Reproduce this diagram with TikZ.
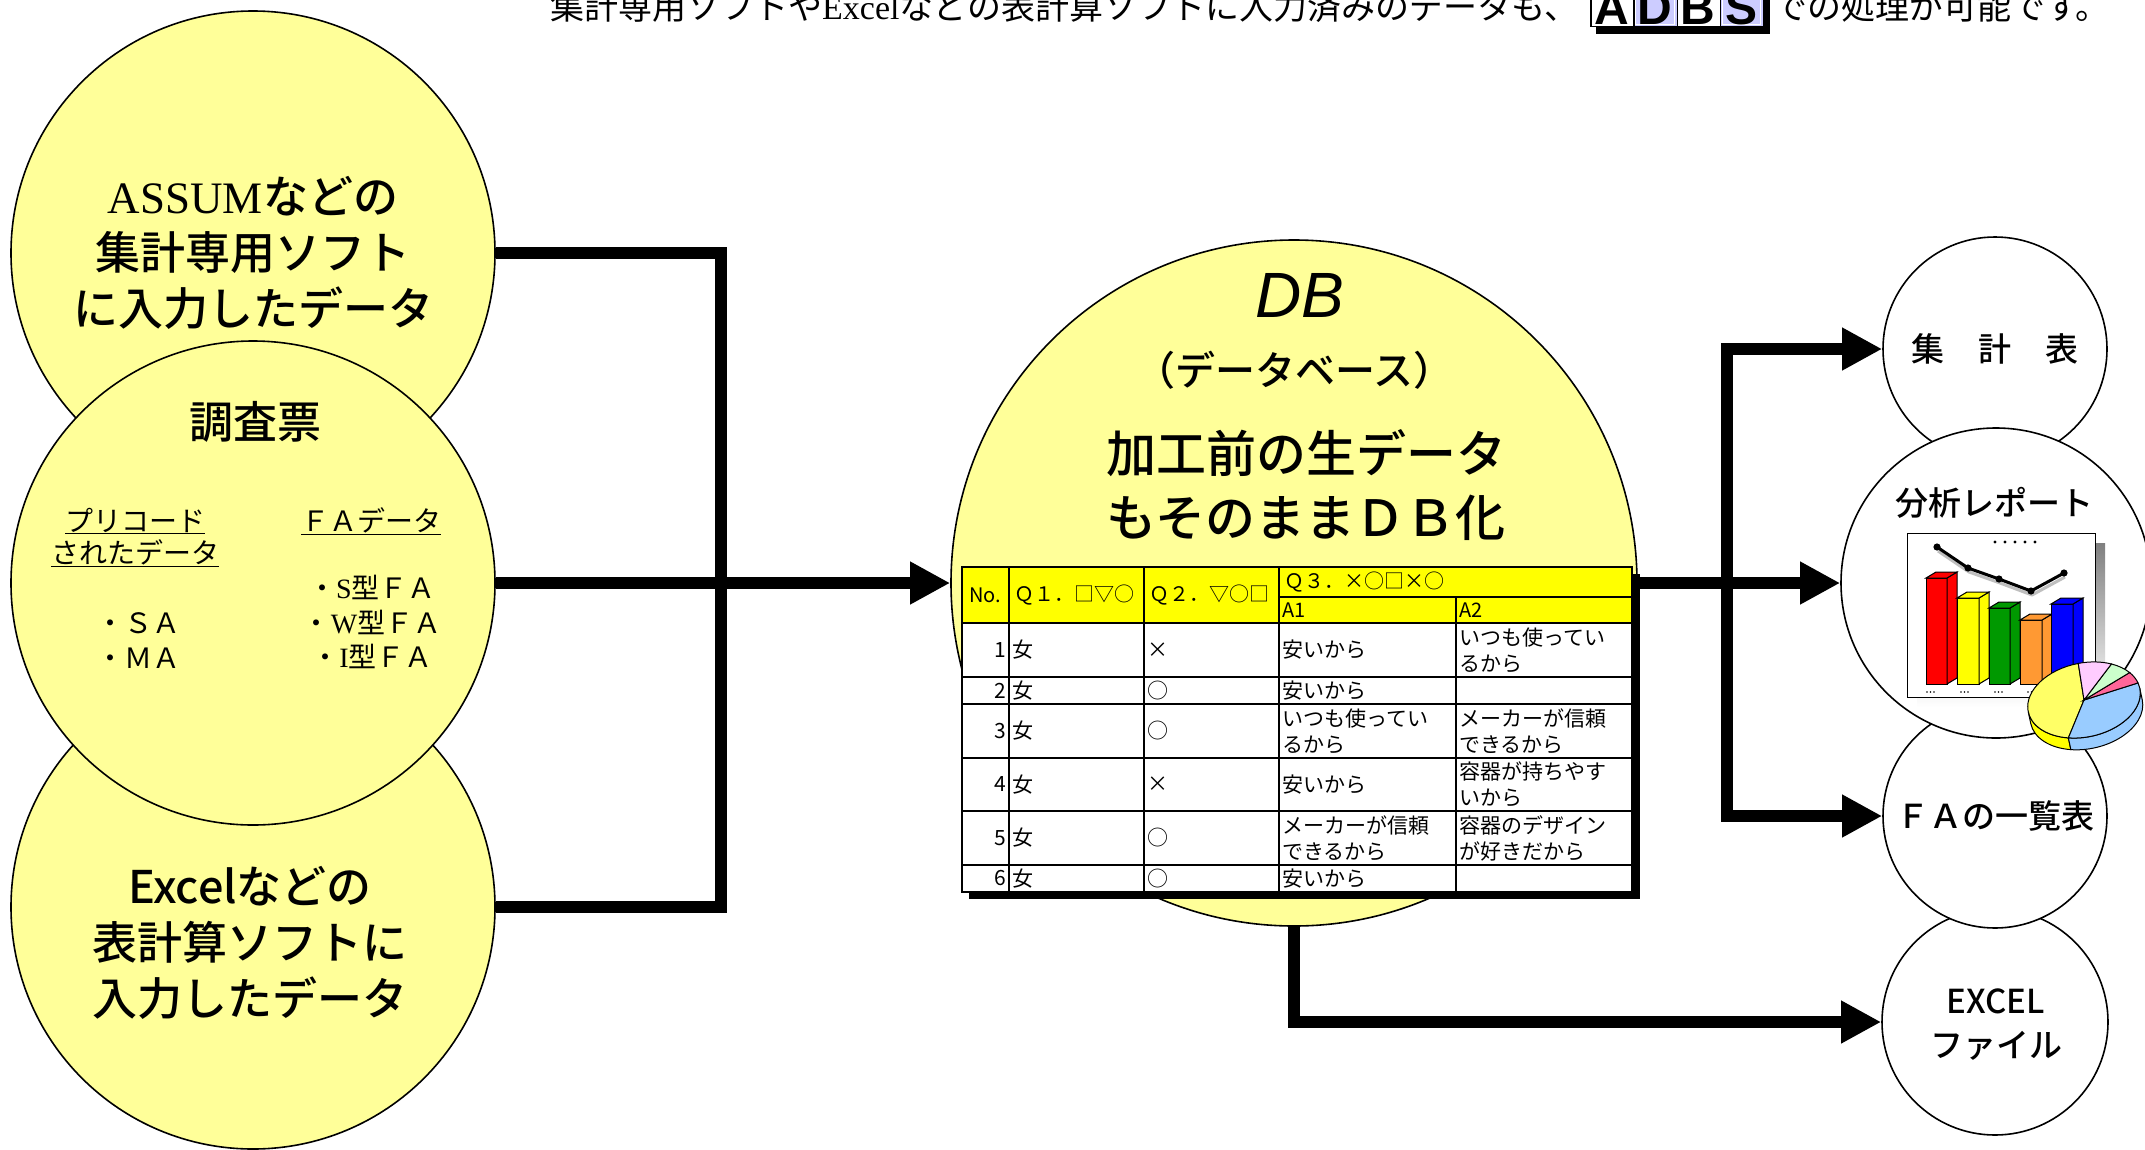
\documentclass[tikz,border=0pt]{standalone}
\usepackage{fontspec}
\setmainfont{Liberation Serif}
\newfontfamily\jp{Noto Sans CJK JP}[BoldFont={Noto Sans CJK JP Medium}]
\newfontfamily\lsans{Liberation Sans}
\usetikzlibrary{arrows.meta}

\definecolor{cream}{HTML}{FFFF99}
\definecolor{hdr}{HTML}{FFFF00}
\definecolor{lav}{HTML}{CCCCFF}
\definecolor{barred}{HTML}{FF0000}
\definecolor{baryellow}{HTML}{FFFF00}
\definecolor{bargreen}{HTML}{009900}
\definecolor{barorange}{HTML}{FF9933}
\definecolor{barblue}{HTML}{0000FF}
\definecolor{pieyellow}{HTML}{FFFF66}
\definecolor{pieblue}{HTML}{99CCFF}
\definecolor{piepink}{HTML}{FFCCFF}
\definecolor{piegreen}{HTML}{CCFFCC}
\definecolor{piered}{HTML}{FF6699}
\definecolor{shade}{HTML}{B2B2B2}

% one 3D bar: left x, right x, top y, colour (base at y=684)
\newcommand\chartbar[4]{%
  \filldraw[fill=#4] (#1,#3) rectangle (#2,684);
  \filldraw[fill=#4] (#2,684) -- (#2,#3) -- (#2+10,#3-6) -- (#2+10,678) -- cycle;
  \filldraw[fill=#4] (#1,#3) -- (#2,#3) -- (#2+10,#3-6) -- (#1+10,#3-6) -- cycle;}

\begin{document}
\begin{tikzpicture}[x=1pt, y=-1pt,
  bubble/.style={circle, draw, line width=1.6pt, fill=cream, inner sep=0pt, minimum size=#1},
  roundout/.style={circle, draw, line width=1.6pt, fill=white, inner sep=0pt, minimum size=#1},
  pipe/.style={line width=12pt},
  flow/.style={pipe, -{Triangle[length=40pt,width=40pt]}},
  headline/.style={font=\jp\bfseries\fontsize{45}{56}\selectfont, align=center, inner sep=0pt},
  small/.style={font=\jp\fontsize{28}{34}\selectfont, inner sep=0pt},
  outlabel/.style={font=\jp\bfseries\fontsize{33}{44}\selectfont, align=center, inner sep=0pt},
  cellfont/.style={font=\jp\fontsize{21}{26}\selectfont, inner sep=0pt, align=left},
  hdrfont/.style={font=\jp\fontsize{20}{24}\selectfont, inner sep=0pt},
  letter/.style={font=\lsans\bfseries\fontsize{48}{48}\selectfont, inner sep=0pt, anchor=base}]

\useasboundingbox (0,0) rectangle (2145,1149);
\clip (0,0) rectangle (2145,1149);

% ---- lead line with the ADBS logo ----
\node[anchor=base west, inner sep=0pt, font=\jp\fontsize{34}{34}\selectfont] (lead) at (550,19)
  {集計専用ソフトや{\rmfamily Excel}などの表計算ソフトに入力済みのデータも、};
\fill (1596,-13) rectangle (1770,34);
\foreach \lt/\lc [count=\i] in {A/white, D/lav, B/white, S/lav} {
  \pgfmathsetmacro\lx{1590+(\i-1)*43.25}
  \node[draw, fill=\lc, line width=1.5pt, minimum width=43.25pt, minimum height=50pt,
        anchor=south west, inner sep=0pt] (logo\i) at (\lx,27) {};
  \draw[white, line width=1pt] (\lx+2.5,-20) rectangle (\lx+40.75,24.5);
  \node[letter] (logoch\i) at (\lx+21.6,24) {\lt};
}
\node[anchor=base west, inner sep=0pt, font=\jp\fontsize{34}{34}\selectfont] (tail) at (1773,19)
  {での処理が可能です。};

% ---- input sources ----
\node[bubble=484pt, headline] (assum) at (253,253)
  {{\rmfamily\mdseries ASSUM}などの\\集計専用ソフト\\に入力したデータ};
\node[bubble=484pt] (xl) at (253,907) {};
\node[headline] (xltext) at (250,943) {Excelなどの\\表計算ソフトに\\入力したデータ};
\node[bubble=484pt] (chosa) at (253,583) {};
\node[font=\jp\bfseries\fontsize{44}{44}\selectfont, inner sep=0pt] (ctitle) at (255,422) {調査票};
\node[small] (pc1) at (135,521) {\underline{プリコード}};
\node[small] (pc2) at (135,553) {\underline{されたデータ}};
\node[small] (fad) at (371,521) {\underline{ＦＡデータ}};
\node[small] (sa) at (138,623) {・ＳＡ};
\node[small] (ma) at (138,658) {・ＭＡ};
\node[small] (fs) at (372,587) {・{\rmfamily S}型ＦＡ};
\node[small] (fw) at (372,622) {・{\rmfamily W}型ＦＡ};
\node[small] (fi) at (372,656) {・{\rmfamily I}型ＦＡ};

% ---- database ----
\node[bubble=686pt] (db) at (1294,583) {};
\node[inner sep=0pt, font=\lsans\itshape\fontsize{64}{64}\selectfont] (dbname) at (1300,295) {DB};
\node[inner sep=0pt, font=\jp\bfseries\fontsize{40}{40}\selectfont] (dbsub) at (1294,370) {（データベース）};
\node[inner sep=0pt, align=center, font=\jp\bfseries\fontsize{50}{64}\selectfont] (dbbody) at (1306,485)
  {加工前の生データ\\もそのままＤＢ化};

% ---- outputs ----
\node[roundout=224pt, outlabel] (shukei) at (1995,349) {集\hspace{34pt}計\hspace{34pt}表};
\node[roundout=226pt] (xlfile) at (1995,1022) {};
\node[outlabel] (xlfiletext) at (1996,1025) {EXCEL\\ファイル};
\node[roundout=224pt, outlabel] (fa) at (1995,816) {ＦＡの一覧表};
\node[roundout=310pt] (bunseki) at (1996,583) {};
\node[outlabel] (bunsekitext) at (1994,503) {分析レポート};

% ---- connectors ----
\coordinate (busL) at (721,583);
\coordinate (busR) at (1727,583);
\draw[pipe] (assum.east) -| (busL) |- (xl.east);
\draw[flow] (chosa.east) -- (db.west);
\draw[flow] (db.center) -- (bunseki.west);
\draw[flow] (busR) |- (shukei.west);
\draw[flow] (busR) |- (fa.west);
\draw[flow] (db.south) |- (xlfile.west);

% ---- raw data sheet ----
\fill (969,574) rectangle (1640,899);
\node[fill=white, minimum width=670pt, minimum height=325pt, inner sep=0pt] (tbl) at (1297,729.5) {};
\fill[hdr] (962,567) rectangle (1632,623);
\begin{scope}[line width=1.2pt]
  \foreach \gx in {1009,1144,1279} \draw (\gx,567) -- (\gx,892);
  \draw (1456,597) -- (1456,892);
  \draw (1279,597) -- (1632,597);
  \foreach \gy in {623,677,704,758,811,865} \draw (962,\gy) -- (1632,\gy);
\end{scope}
\draw[line width=2.5pt] (tbl.north west) rectangle (tbl.south east);
\node[hdrfont] (hno) at (985,595) {No.};
\node[hdrfont, anchor=west] (hq1) at (1014,595) {Ｑ１．□▽○};
\node[hdrfont, anchor=west] (hq2) at (1149,595) {Ｑ２．▽○□};
\node[hdrfont, anchor=west] (hq3) at (1284,582) {Ｑ３．×○□×○};
\node[hdrfont, anchor=west] (ha1) at (1282,610) {A1};
\node[hdrfont, anchor=west] (ha2) at (1459,610) {A2};
\foreach \rowy/\rown/\rowq/\cola/\colb [count=\i] in {
  650/1/×/安いから/{いつも使ってい\\るから},
  690.5/2/○/安いから/{},
  731/3/○/{いつも使ってい\\るから}/{メーカーが信頼\\できるから},
  784.5/4/×/安いから/{容器が持ちやす\\いから},
  838/5/○/{メーカーが信頼\\できるから}/{容器のデザイン\\が好きだから},
  878.5/6/○/安いから/{}} {
  \node[cellfont, anchor=east] (no\i) at (1006,\rowy) {\rown};
  \node[cellfont, anchor=west] (sx\i) at (1012,\rowy) {女};
  \node[cellfont, anchor=west] (qa\i) at (1147,\rowy) {\rowq};
  \node[cellfont, anchor=west] (ca\i) at (1282,\rowy) {\cola};
  \node[cellfont, anchor=west] (cb\i) at (1459,\rowy) {\colb};
}

% ---- report chart ----
\fill[shade] (1917,543) rectangle (2105,707);
\draw[fill=white, line width=1pt] (1907,533) rectangle (2095,697);
\foreach \dx in {1995,2005,2015,2025,2035} \fill (\dx,542) circle (1.6);
\begin{scope}[line width=1pt]
  \chartbar{1926}{1947}{578}{barred}
  \chartbar{1957}{1979}{598}{baryellow}
  \chartbar{1989}{2010}{608}{bargreen}
  \chartbar{2020}{2042}{620}{barorange}
  \chartbar{2051}{2073}{604}{barblue}
\end{scope}
\draw[black!25, line width=3pt, line join=round] (1938,551) -- (1969,572) -- (2000,583) -- (2032,595) -- (2065,577);
\draw[line width=3pt, line join=round] (1937,547) -- (1968,568) -- (1999,579) -- (2031,591) -- (2064,573);
\foreach \px/\py in {1937/547, 1968/568, 1999/579, 2031/591, 2064/573} \fill (\px,\py) circle (3.6);
\foreach \tx in {1927,1961,1995,2028} \foreach \k in {0,3.5,7} \fill (\tx+\k,692) circle (0.9);

% ---- pie chart ----
\begin{scope}[shift={(2084,700)}, yscale=-1, rotate=-12, line width=1pt]
  \filldraw[fill=baryellow] (180:57 and 37) arc[start angle=180, end angle=246, x radius=57, y radius=37]
    -- ++(0,-12) arc[start angle=246, end angle=180, x radius=57, y radius=37] -- cycle;
  \filldraw[fill=pieblue] (246:57 and 37) arc[start angle=246, end angle=360, x radius=57, y radius=37]
    -- ++(0,-12) arc[start angle=360, end angle=246, x radius=57, y radius=37] -- cycle;
  \filldraw[fill=pieyellow] (0,0) -- (88:57 and 37) arc[start angle=88, end angle=246, x radius=57, y radius=37] -- cycle;
  \filldraw[fill=pieblue] (0,0) -- (246:57 and 37) arc[start angle=246, end angle=368.5, x radius=57, y radius=37] -- cycle;
  \filldraw[fill=piered] (0,0) -- (8.5:57 and 37) arc[start angle=8.5, end angle=28, x radius=57, y radius=37] -- cycle;
  \filldraw[fill=piegreen] (0,0) -- (28:57 and 37) arc[start angle=28, end angle=53, x radius=57, y radius=37] -- cycle;
  \filldraw[fill=piepink] (0,0) -- (53:57 and 37) arc[start angle=53, end angle=88, x radius=57, y radius=37] -- cycle;
\end{scope}
\end{tikzpicture}
\end{document}
